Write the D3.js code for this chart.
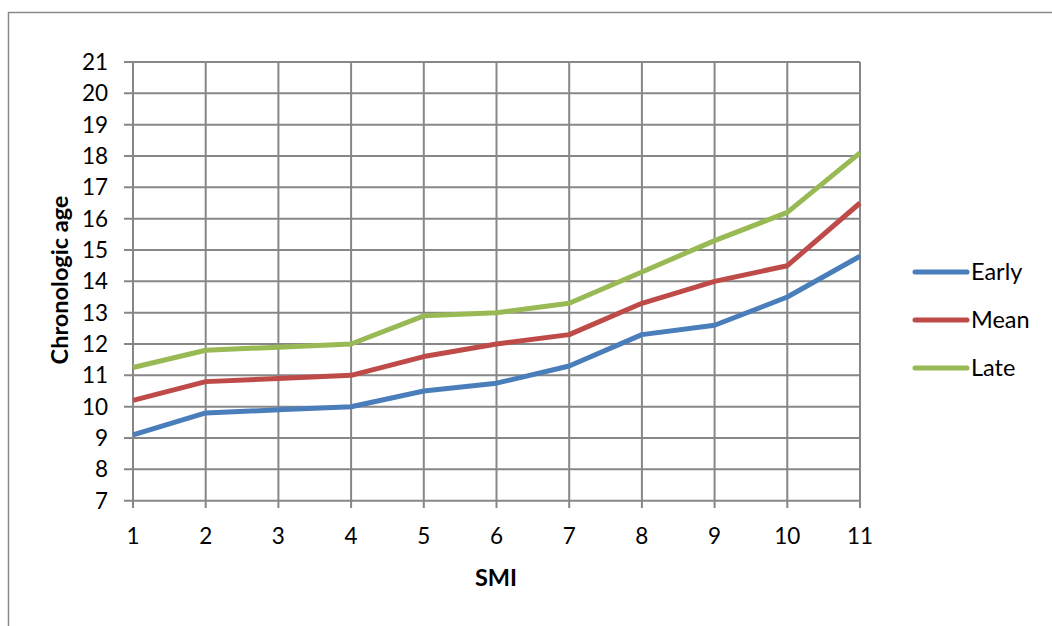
<!DOCTYPE html>
<html><head><meta charset="utf-8">
<script src="https://cdn.jsdelivr.net/npm/d3@7"></script>
<style>body{margin:0;background:#fff}svg{display:block;font-family:Lato,"Open Sans",sans-serif}</style>
</head><body><svg id="c" width="1052" height="626"></svg>
<script>
const smi = [1,2,3,4,5,6,7,8,9,10,11];
const early = [9.1,9.8,9.9,10.0,10.5,10.75,11.3,12.3,12.6,13.5,14.8];
const mean  = [10.2,10.8,10.9,11.0,11.6,12.0,12.3,13.3,14.0,14.5,16.5];
const late  = [11.25,11.8,11.9,12.0,12.9,13.0,13.3,14.3,15.3,16.2,18.1];
const seriesNames = ["Early","Mean","Late"];
const yTicks = [7,8,9,10,11,12,13,14,15,16,17,18,19,20,21];
const colors = ["#4a7ebb","#be4b48","#98b954"];
const seriesData = [early, mean, late];

const svg = d3.select("#c");
svg.append("rect").attr("x",8.5).attr("y",12.5).attr("width",1100).attr("height",700)
  .attr("fill","none").attr("stroke","#898989").attr("stroke-width",1.5);

const x = d3.scaleLinear().domain([1,11]).range([133,860]);
const y = d3.scaleLinear().domain([7,21]).range([500.7,62]);
const g = svg.append("g");
const grid = "#878787";
g.selectAll(".hg").data(yTicks).enter().append("line")
  .attr("x1",124).attr("x2",860).attr("y1",d=>y(d)).attr("y2",d=>y(d))
  .attr("stroke",grid).attr("stroke-width",2);
g.selectAll(".vg").data(smi).enter().append("line")
  .attr("x1",d=>x(d)).attr("x2",d=>x(d)).attr("y1",62).attr("y2",508)
  .attr("stroke",grid).attr("stroke-width",2);
g.selectAll(".yl").data(yTicks).enter().append("text")
  .attr("x",108).attr("y",d=>y(d)).attr("dy","0.36em").attr("text-anchor","end")
  .attr("font-size",22.5).attr("fill","#000").text(d=>d);
g.selectAll(".xl").data(smi).enter().append("text")
  .attr("x",d=>x(d)).attr("y",536).attr("dy","0.36em").attr("text-anchor","middle")
  .attr("font-size",22.5).attr("fill","#000").text(d=>d);
const line = d3.line().x((d,i)=>x(smi[i])).y(d=>y(d));
seriesData.forEach((s,k)=>{
  g.append("path").attr("d",line(s)).attr("fill","none").attr("stroke",colors[k])
    .attr("stroke-width",5).attr("stroke-linejoin","round");
});
svg.append("text").attr("transform","translate(68,280) rotate(-90)").attr("text-anchor","middle")
  .attr("font-size",23.5).attr("font-weight","bold").text("Chronologic age");
svg.append("text").attr("x",496).attr("y",578).attr("dy","0.36em").attr("text-anchor","middle")
  .attr("font-size",23.5).attr("font-weight","bold").text("SMI");
const ly = d3.scalePoint().domain(seriesNames).range([272,368]);
seriesNames.forEach((n,k)=>{
  svg.append("line").attr("x1",915).attr("x2",967).attr("y1",ly(n)).attr("y2",ly(n))
    .attr("stroke",colors[k]).attr("stroke-width",5).attr("stroke-linecap","round");
  svg.append("text").attr("x",971).attr("y",ly(n)).attr("dy","0.36em")
    .attr("font-size",23.5).text(n);
});
</script></body></html>
